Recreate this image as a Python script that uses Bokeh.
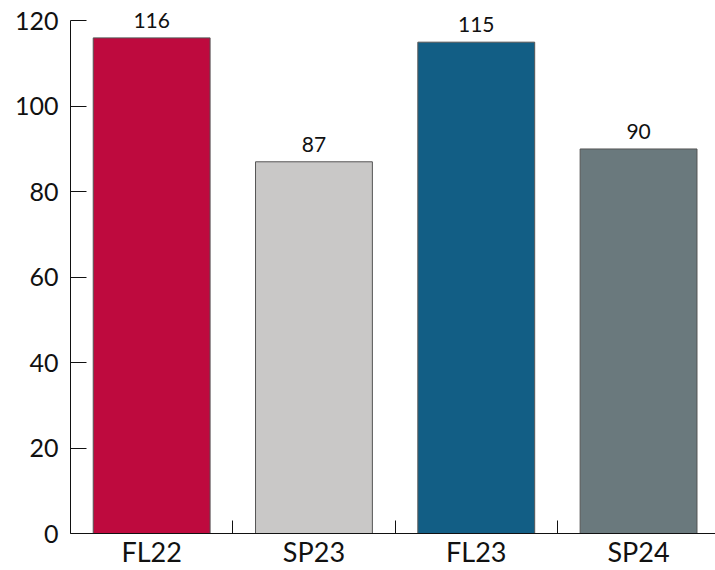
from bokeh.plotting import figure
from bokeh.models import Range1d, FixedTicker, ColumnDataSource, LabelSet
from bokeh.core.properties import value
from bokeh.embed import file_html
from bokeh.resources import INLINE
import numpy as np

categories = ["FL22", "SP23", "FL23", "SP24"]
values = [116, 87, 115, 90]
colors = ["#BE0A3E", "#C9C8C7", "#125E85", "#6A797D"]
y_ticks = [0, 20, 40, 60, 80, 100, 120]

FONT = "Lato"

x_pos = np.arange(len(categories)) + 0.5
boundaries = list(np.arange(1, len(categories)))

src = ColumnDataSource(dict(x=x_pos, top=values, color=colors,
                            label=[str(v) for v in values]))

p = figure(width=715, height=570, output_backend="svg", toolbar_location=None,
           x_range=Range1d(0, 3.974), y_range=Range1d(0, 124.75),
           min_border_left=70, min_border_right=0, min_border_top=0,
           min_border_bottom=30)
p.outline_line_color = None
p.grid.visible = False

p.vbar(x="x", top="top", width=0.72, bottom=0, fill_color="color",
       line_color="#555555", line_width=1, source=src)
labels = LabelSet(x="x", y="top", text="label", source=src, text_align="center",
                  text_baseline="bottom", y_offset=10, text_font=value(FONT),
                  text_font_size="21px", text_color="#111111")
p.add_layout(labels)

ya = p.yaxis[0]
ya.ticker = FixedTicker(ticks=y_ticks)
ya.bounds = (0, 120)
ya.major_tick_in = 16
ya.major_tick_out = 0
ya.minor_tick_line_color = None
ya.major_label_standoff = 12
ya.major_label_text_font = FONT
ya.major_label_text_font_size = "25px"
ya.major_label_text_color = "#111111"
ya.axis_line_color = "#111111"
ya.major_tick_line_color = "#111111"

xa = p.xaxis[0]
xa.ticker = FixedTicker(ticks=list(x_pos), minor_ticks=boundaries)
xa.major_label_overrides = {float(x): c for x, c in zip(x_pos, categories)}
xa.major_tick_line_color = None
xa.major_tick_in = 0
xa.major_tick_out = 0
xa.minor_tick_in = 13
xa.minor_tick_out = 0
xa.minor_tick_line_color = "#111111"
xa.major_label_standoff = 1
xa.major_label_text_font = FONT
xa.major_label_text_font_size = "27px"
xa.major_label_text_color = "#111111"
xa.axis_line_color = "#111111"

open("out.html", "w").write(file_html(p, INLINE))
